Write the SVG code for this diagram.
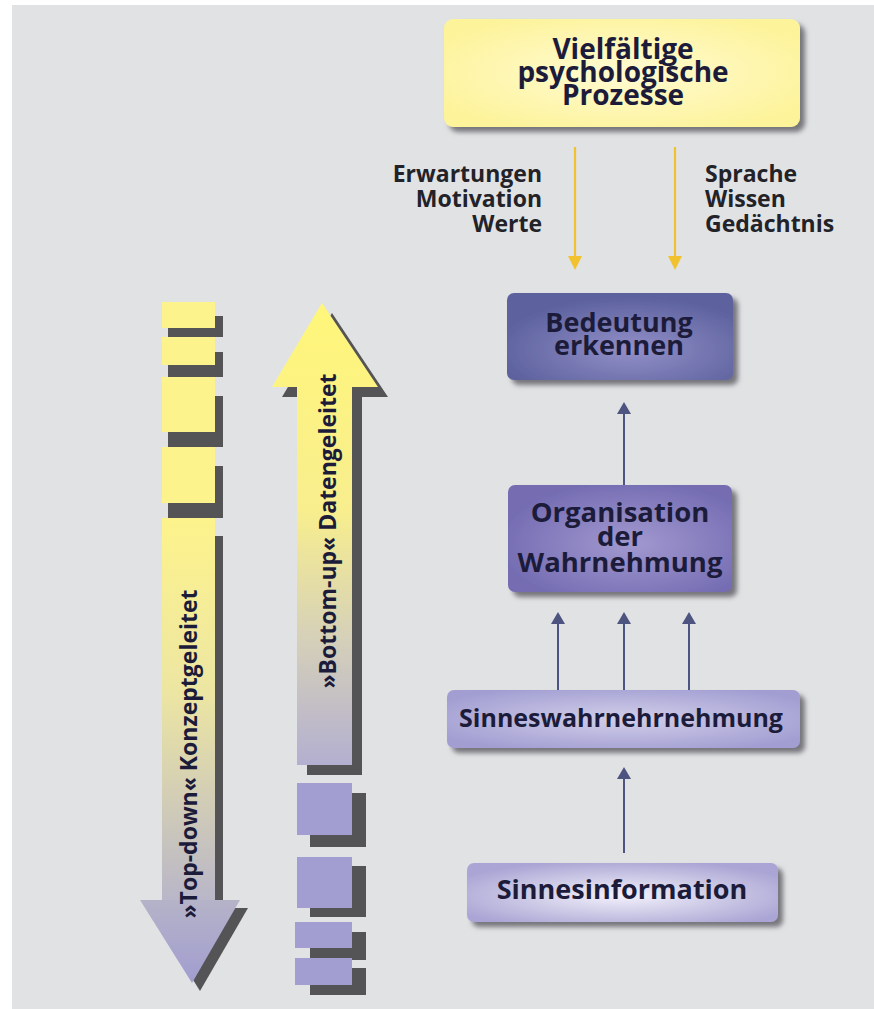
<svg xmlns="http://www.w3.org/2000/svg" width="874" height="1009" viewBox="0 0 874 1009">
<defs>
<style>
.t{font-family:"Open Sans","Noto Sans","DejaVu Sans",sans-serif;font-weight:700;fill:#1c1c3a;text-anchor:middle}
.lbl{font-family:"Open Sans","Noto Sans","DejaVu Sans",sans-serif;font-weight:700;fill:#222228;font-size:23px}
.sh{fill:#545457}
.ya{stroke:#f2c12e;stroke-width:2.2;fill:none}
.yh{fill:#f2c12e}
.ba{stroke:#4e5480;stroke-width:2;fill:none}
.bh{fill:#4e5480}
.lav{fill:#a29ed2}
.yel{fill:#fdf38c}
</style>
<filter id="ds" x="-10%" y="-20%" width="130%" height="150%">
<feGaussianBlur in="SourceAlpha" stdDeviation="2.5"/>
<feOffset dx="5" dy="5" result="b"/>
<feFlood flood-color="#6a6a70" flood-opacity="0.9"/>
<feComposite in2="b" operator="in"/>
<feMerge><feMergeNode/><feMergeNode in="SourceGraphic"/></feMerge>
</filter>
<radialGradient id="gY" cx="0.5" cy="0.5" r="0.6">
<stop offset="0" stop-color="#fffbd2"/><stop offset="1" stop-color="#fdf39a"/>
</radialGradient>
<radialGradient id="gB1" cx="0.55" cy="0.65" r="0.6">
<stop offset="0" stop-color="#928fc8"/><stop offset="1" stop-color="#5d629e"/>
</radialGradient>
<radialGradient id="gB2" cx="0.55" cy="0.55" r="0.6">
<stop offset="0" stop-color="#a299d0"/><stop offset="1" stop-color="#746cb2"/>
</radialGradient>
<radialGradient id="gB3" cx="0.5" cy="0.5" r="0.6">
<stop offset="0" stop-color="#d2cfea"/><stop offset="1" stop-color="#a29ed2"/>
</radialGradient>
<radialGradient id="gB4" cx="0.5" cy="0.55" r="0.6">
<stop offset="0" stop-color="#f3f2fb"/><stop offset="1" stop-color="#aaa5d4"/>
</radialGradient>
<linearGradient id="gTD" x1="0" y1="518" x2="0" y2="900" gradientUnits="userSpaceOnUse">
<stop offset="0" stop-color="#fdf38c"/><stop offset="0.45" stop-color="#ede6a2"/><stop offset="1" stop-color="#b9b6c8"/>
</linearGradient>
<linearGradient id="gTDh" x1="0" y1="900" x2="0" y2="983" gradientUnits="userSpaceOnUse">
<stop offset="0" stop-color="#b5b3c8"/><stop offset="1" stop-color="#a19dd0"/>
</linearGradient>
<linearGradient id="gBU" x1="0" y1="303" x2="0" y2="765" gradientUnits="userSpaceOnUse">
<stop offset="0" stop-color="#fff67a"/><stop offset="0.45" stop-color="#f8ee8e"/><stop offset="0.72" stop-color="#d6d1b8"/><stop offset="1" stop-color="#b3afd0"/>
</linearGradient>
</defs>
<rect x="0" y="0" width="874" height="1009" fill="#ffffff"/>
<rect x="12" y="5" width="862" height="1004" fill="#e1e2e4"/>

<g id="top-down">
<rect class="sh" x="168" y="316" width="55" height="21"/>
<rect class="yel" x="162" y="302" width="53" height="26"/>
<rect class="sh" x="168" y="352" width="55" height="25"/>
<rect class="yel" x="162" y="337" width="53" height="28"/>
<rect class="sh" x="168" y="396" width="55" height="51"/>
<rect class="yel" x="162" y="377" width="53" height="55"/>
<rect class="sh" x="168" y="466" width="55" height="52"/>
<rect class="yel" x="162" y="447" width="53" height="56"/>
<rect class="sh" x="170" y="536" width="53" height="370"/>
<polygon class="sh" points="148,908 248,908 200,991"/>
<rect x="162" y="518" width="53" height="383" fill="url(#gTD)"/>
<polygon points="140,900 240,900 192,983" fill="url(#gTDh)"/>
<text class="t" font-size="23" transform="translate(197,754) rotate(-90)">»Top-down« Konzeptgeleitet</text>
</g>

<g id="bottom-up">
<polygon class="sh" points="332,313 388,397 362,397 362,775 307,775 307,397 282,397"/>
<polygon points="322,303 378,387 352,387 352,765 297,765 297,387 272,387" fill="url(#gBU)"/>
<text class="t" font-size="23" transform="translate(336,531) rotate(-90)">»Bottom-up« Datengeleitet</text>
<rect class="sh" x="310" y="793" width="56" height="54"/>
<rect class="lav" x="297" y="783" width="55" height="52"/>
<rect class="sh" x="310" y="866" width="56" height="51"/>
<rect class="lav" x="297" y="857" width="55" height="51"/>
<rect class="sh" x="310" y="932" width="56" height="28"/>
<rect class="lav" x="295" y="922" width="57" height="26"/>
<rect class="sh" x="310" y="968" width="56" height="27"/>
<rect class="lav" x="295" y="958" width="57" height="27"/>
</g>

<g id="prozesse">
<rect x="444" y="19" width="356" height="108" rx="9" fill="url(#gY)" filter="url(#ds)"/>
<text class="t" font-size="28"><tspan x="623" y="59">Vielfältige</tspan><tspan x="623" y="82">psychologische</tspan><tspan x="623" y="105">Prozesse</tspan></text>
</g>

<g id="labels-left">
<text class="lbl" text-anchor="end"><tspan x="542" y="182">Erwartungen</tspan><tspan x="542" y="207">Motivation</tspan><tspan x="542" y="232">Werte</tspan></text>
</g>
<g id="labels-right">
<text class="lbl"><tspan x="705" y="182">Sprache</tspan><tspan x="705" y="207">Wissen</tspan><tspan x="705" y="232">Gedächtnis</tspan></text>
</g>

<g id="bedeutung">
<rect x="507" y="293" width="226" height="87" rx="7" fill="url(#gB1)" filter="url(#ds)"/>
<text class="t" font-size="27"><tspan x="619" y="332">Bedeutung</tspan><tspan x="619" y="355">erkennen</tspan></text>
</g>

<g id="organisation">
<rect x="508" y="485" width="224" height="107" rx="7" fill="url(#gB2)" filter="url(#ds)"/>
<text class="t" font-size="27.5"><tspan x="620" y="522">Organisation</tspan><tspan x="620" y="546">der</tspan><tspan x="620" y="572">Wahrnehmung</tspan></text>
</g>

<g id="sinneswahrnehmung">
<rect x="447" y="690" width="353" height="58" rx="7" fill="url(#gB3)" filter="url(#ds)"/>
<text class="t" font-size="25" x="621" y="727">Sinneswahrnehrnehmung</text>
</g>

<g id="sinnesinformation">
<rect x="467" y="863" width="311" height="59" rx="7" fill="url(#gB4)" filter="url(#ds)"/>
<text class="t" font-size="27" x="622" y="899">Sinnesinformation</text>
</g>

<g id="connectors">
<line class="ya" x1="575" y1="147" x2="575" y2="258"/>
<polygon class="yh" points="568,256 582,256 575,270"/>
<line class="ya" x1="675" y1="147" x2="675" y2="258"/>
<polygon class="yh" points="668,256 682,256 675,270"/>
<line class="ba" x1="624" y1="485" x2="624" y2="412"/>
<polygon class="bh" points="617,414 631,414 624,402"/>
<line class="ba" x1="558" y1="690" x2="558" y2="622"/>
<polygon class="bh" points="551,624 565,624 558,612"/>
<line class="ba" x1="624" y1="690" x2="624" y2="622"/>
<polygon class="bh" points="617,624 631,624 624,612"/>
<line class="ba" x1="689" y1="690" x2="689" y2="622"/>
<polygon class="bh" points="682,624 696,624 689,612"/>
<line class="ba" x1="624" y1="853" x2="624" y2="777"/>
<polygon class="bh" points="617,779 631,779 624,767"/>
</g>
</svg>
